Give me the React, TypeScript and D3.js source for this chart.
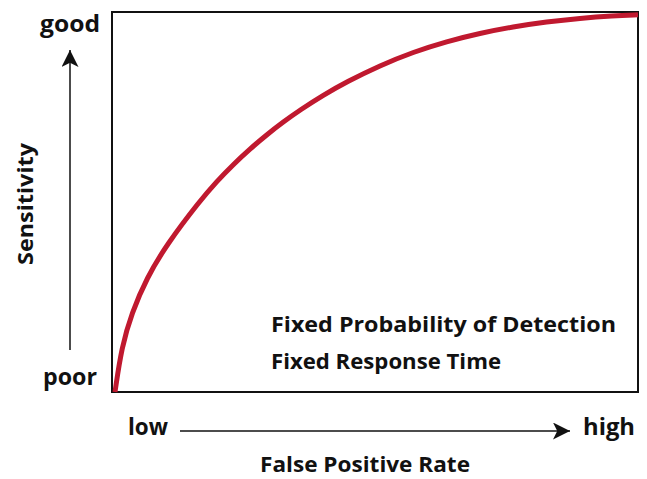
import React from "react";
import * as d3 from "d3";

// ROC-style curve: false positive rate (x) vs sensitivity (y), normalized 0..1
const fpr = [0.0057, 0.0184, 0.0375, 0.066, 0.104, 0.1673, 0.199, 0.2306, 0.2624, 0.2941, 0.3257, 0.3574, 0.4017, 0.4462, 0.5095, 0.5728, 0.6363, 0.6996, 0.7624, 0.8264, 0.8897, 0.9525, 1.0];
const sensitivity = [0, 0.1184, 0.2079, 0.3, 0.3882, 0.5034, 0.5539, 0.5989, 0.6397, 0.6771, 0.7108, 0.7421, 0.7813, 0.8163, 0.8592, 0.8947, 0.9224, 0.9442, 0.9611, 0.9742, 0.9837, 0.99, 0.9926];
const yLabels = ["poor", "good"];
const xLabels = ["low", "high"];
const xTitle = "False Positive Rate";
const yTitle = "Sensitivity";
const notes = ["Fixed Probability of Detection", "Fixed Response Time"];

const W = 647;
const H = 479;
const FONT = "'Open Sans', 'Noto Sans', sans-serif";

export default function App() {
  const x = d3.scaleLinear().domain([0, 1]).range([112, 638]);
  const y = d3.scaleLinear().domain([0, 1]).range([392, 12]);
  const pts: [number, number][] = fpr.map((f, i) => [f, sensitivity[i]]);
  const line = d3
    .line<[number, number]>()
    .x((d) => x(d[0]))
    .y((d) => y(d[1]))
    .curve(d3.curveBasis);

  const txt = (props: any, s: string, len: number, size: number) => (
    <text
      fontFamily={FONT}
      fontWeight={700}
      fontSize={size}
      fill="#111"
      textLength={len}
      lengthAdjust="spacingAndGlyphs"
      {...props}
    >
      {s}
    </text>
  );

  return (
    <svg
      width={W}
      height={H}
      style={{ position: "absolute", left: 0, top: 0, background: "#fff" }}
    >
      <defs>
        <marker id="ah" viewBox="0 0 10 10" refX="10" refY="5" markerWidth="17" markerHeight="17" markerUnits="userSpaceOnUse" orient="auto">
          <path d="M0,0 L10,5 L0,10 L2.5,5 z" fill="#111" />
        </marker>
      </defs>
      <rect x={x(0)} y={y(1)} width={x(1) - x(0)} height={y(0) - y(1)} fill="none" stroke="#111" strokeWidth={2} />
      <path d={line(pts) || ""} fill="none" stroke="#c0192f" strokeWidth={5} strokeLinecap="butt" />

      {txt({ x: 40, y: 32 }, yLabels[1], 60, 23)}
      {txt({ x: 43, y: 385 }, yLabels[0], 54, 23)}
      <line x1={70} y1={350} x2={70} y2={50} stroke="#111" strokeWidth={1.5} markerEnd="url(#ah)" />
      {txt({ transform: "translate(33,265) rotate(-90)", x: 0, y: 0 }, yTitle, 122, 21)}

      {txt({ x: 128, y: 435 }, xLabels[0], 40, 23)}
      {txt({ x: 583, y: 435 }, xLabels[1], 52, 23)}
      <line x1={180} y1={431} x2={570} y2={431} stroke="#111" strokeWidth={1.5} markerEnd="url(#ah)" />
      {txt({ x: 260, y: 472 }, xTitle, 210, 21)}

      {txt({ x: 271, y: 332 }, notes[0], 345, 22)}
      {txt({ x: 271, y: 369 }, notes[1], 230, 22)}
    </svg>
  );
}
